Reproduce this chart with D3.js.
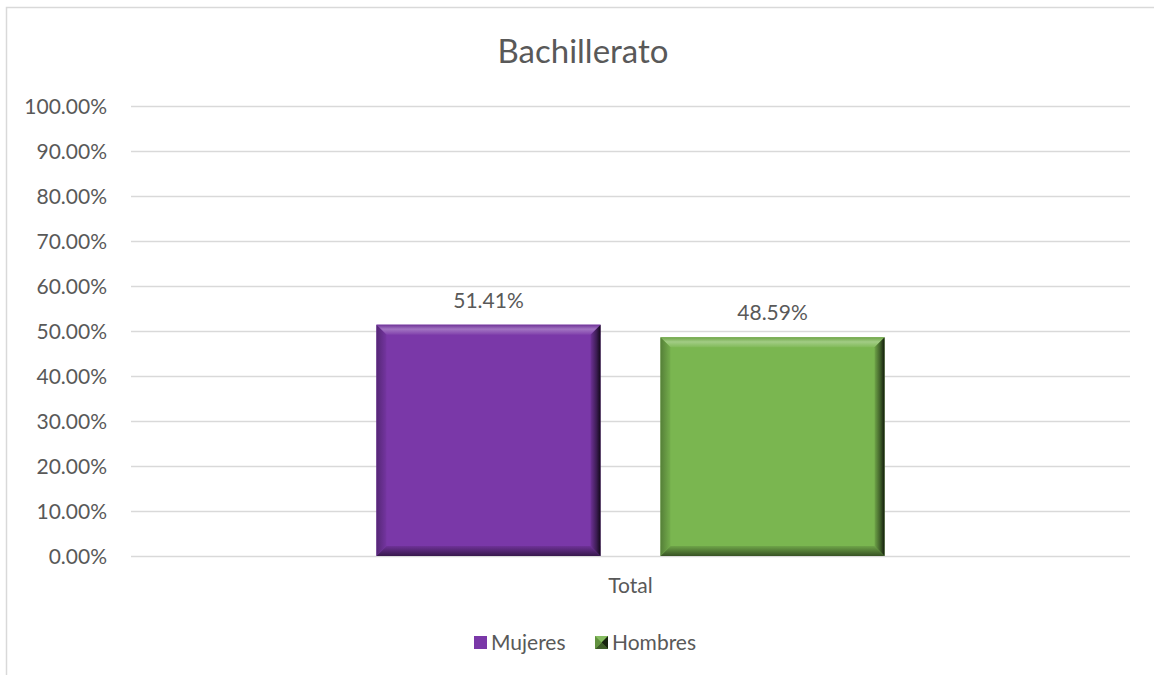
<!DOCTYPE html>
<html><head><meta charset="utf-8">
<script src="https://cdn.jsdelivr.net/npm/d3@7"></script>
<style>body{margin:0;background:#fff}svg{display:block}text{font-family:Lato,"Open Sans",sans-serif;fill:#595959}</style>
</head><body>
<svg id="c" width="1154" height="675"></svg>
<script>
const title = "Bachillerato";
const categories = ["Total"];
const seriesNames = ["Mujeres", "Hombres"];
const seriesValues = [0.5141, 0.4859];
const seriesColors = ["#7A38A8", "#7AB650"];
const yTicks = [0,0.1,0.2,0.3,0.4,0.5,0.6,0.7,0.8,0.9,1.0];

const svg = d3.select("#c");
const m = {l:131, r:1130, t:106, b:556};
const FS = "21px";

svg.append("rect").attr("x",6.5).attr("y",7.5).attr("width",1200).attr("height",700)
  .attr("fill","#fff").attr("stroke","#d9d9d9").attr("stroke-width",1.5);

const y = d3.scaleLinear().domain([0,1]).range([m.b,m.t]);
const x0 = d3.scaleBand().domain(categories).range([m.l,m.r]);
const x1 = d3.scaleBand().domain(seriesNames).range([0,x0.bandwidth()]).paddingInner(0.211).paddingOuter(0.864);

// gridlines
svg.append("g").selectAll("line").data(yTicks).join("line")
  .attr("x1",m.l).attr("x2",m.r).attr("y1",d=>Math.round(y(d))+0.5).attr("y2",d=>Math.round(y(d))+0.5)
  .attr("stroke","#d9d9d9").attr("stroke-width",1.3);

// y axis labels
const yAxis = d3.axisLeft(y).tickValues(yTicks).tickFormat(d=>(d*100).toFixed(2)+"%").tickSize(0).tickPadding(24);
const ga = svg.append("g").attr("transform",`translate(${m.l},0)`).call(yAxis);
ga.select(".domain").remove();
ga.selectAll("text").style("font-size",FS).attr("fill","#595959").attr("dy","0.36em");

// title (centred on chart area)
svg.append("text").attr("x",583).attr("y",63).attr("text-anchor","middle")
  .style("font-size","33px").text(title);

// gradients
const defs = svg.append("defs");
function shade(c,k){return k>0?d3.interpolateRgb(c,"#fff")(k):d3.interpolateRgb(c,"#000")(-k);}
seriesColors.forEach((c,i)=>{
  const mk=(id,x1_,y1_,x2_,y2_,stops)=>{const g=defs.append("linearGradient").attr("id",id+i)
    .attr("x1",x1_).attr("y1",y1_).attr("x2",x2_).attr("y2",y2_);
    stops.forEach(s=>g.append("stop").attr("offset",s[0]).attr("stop-color",s[1]));};
  mk("top",0,0,0,1,[[0,shade(c,-0.1)],[0.45,shade(c,0.3)],[1,shade(c,0.05)]]);
  mk("bot",0,0,0,1,[[0,shade(c,-0.1)],[1,shade(c,-0.55)]]);
  mk("lef",0,0,1,0,[[0,shade(c,-0.3)],[1,shade(c,-0.05)]]);
  mk("rig",0,0,1,0,[[0,shade(c,-0.1)],[0.6,shade(c,-0.5)],[1,shade(c,-0.85)]]);
});

const bw = 10;
categories.forEach((cat)=>{
  const g = svg.append("g").attr("transform",`translate(${x0(cat)},0)`);
  seriesNames.forEach((s,i)=>{
    const v = seriesValues[i];
    const X = x1(s), Wd = x1.bandwidth(), Y = y(v), Hh = y(0)-y(v);
    const gg = g.append("g");
    gg.append("rect").attr("x",X).attr("y",Y).attr("width",Wd).attr("height",Hh).attr("fill",seriesColors[i]);
    const pts = (a)=>a.map(p=>p.join(",")).join(" ");
    const L=X,R=X+Wd,T=Y,B=Y+Hh;
    gg.append("polygon").attr("points",pts([[L,T],[R,T],[R-bw,T+bw],[L+bw,T+bw]])).attr("fill",`url(#top${i})`);
    gg.append("polygon").attr("points",pts([[L,B],[R,B],[R-bw,B-bw],[L+bw,B-bw]])).attr("fill",`url(#bot${i})`);
    gg.append("polygon").attr("points",pts([[L,T],[L+bw,T+bw],[L+bw,B-bw],[L,B]])).attr("fill",`url(#lef${i})`);
    gg.append("polygon").attr("points",pts([[R,T],[R-bw,T+bw],[R-bw,B-bw],[R,B]])).attr("fill",`url(#rig${i})`);
    g.append("text").attr("x",X+Wd/2).attr("y",Y-17).attr("text-anchor","middle")
      .style("font-size",FS).text((v*100).toFixed(2)+"%");
  });
});

// x axis label
const xAxis = d3.axisBottom(x0).tickSize(0).tickPadding(22);
const gx = svg.append("g").attr("transform",`translate(0,${m.b})`).call(xAxis);
gx.select(".domain").remove();
gx.selectAll("text").style("font-size",FS).attr("fill","#595959");

// legend
const leg = svg.append("g");
const legX = [474, 595];
seriesNames.forEach((s,i)=>{
  const lg = leg.append("g").attr("transform",`translate(${legX[i]},636)`);
  lg.append("rect").attr("width",13).attr("height",13).attr("fill",seriesColors[i]);
  if(i===1){
    lg.append("polygon").attr("points","0,0 13,0 6.5,6.5").attr("fill",shade(seriesColors[i],0.1));
    lg.append("polygon").attr("points","0,13 13,13 6.5,6.5").attr("fill",shade(seriesColors[i],-0.5));
    lg.append("polygon").attr("points","13,0 13,13 6.5,6.5").attr("fill",shade(seriesColors[i],-0.8));
    lg.append("polygon").attr("points","0,0 0,13 6.5,6.5").attr("fill",shade(seriesColors[i],-0.2));
  }
  lg.append("text").attr("x",17).attr("y",6.5).attr("dy","0.36em").style("font-size",FS).text(s);
});
</script>
</body></html>
